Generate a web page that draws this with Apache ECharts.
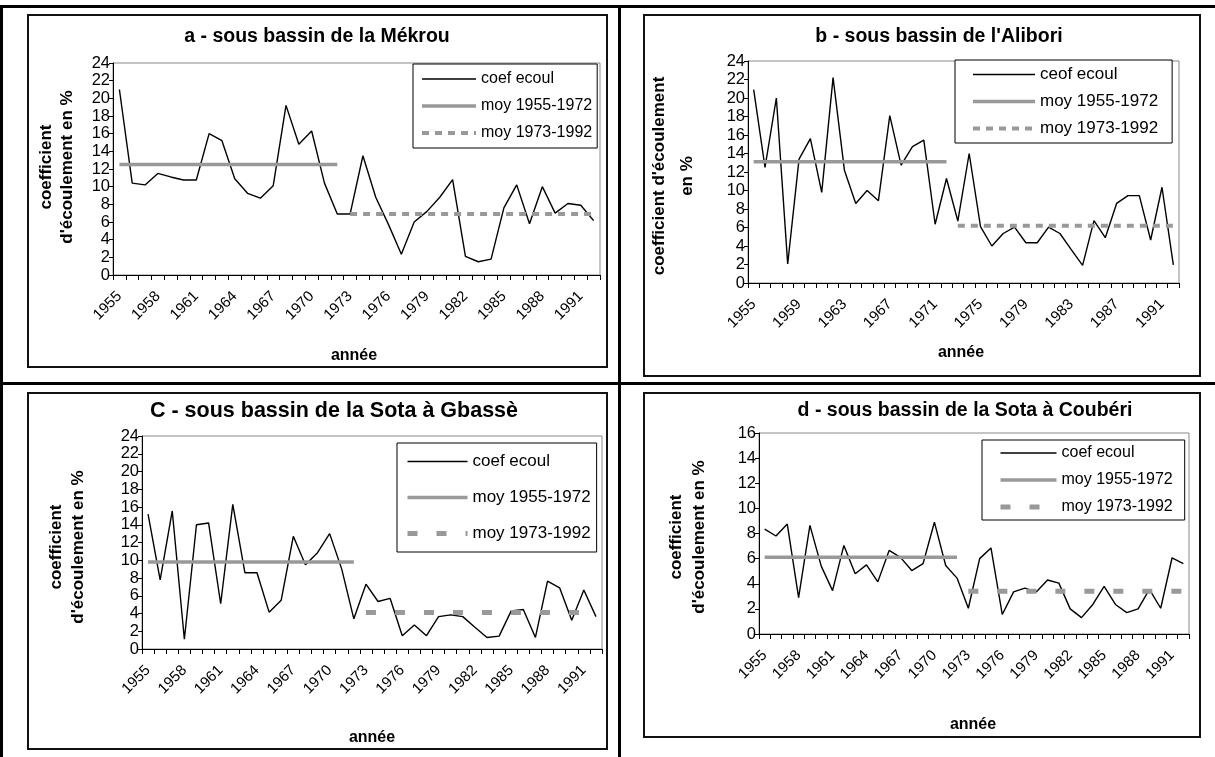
<!DOCTYPE html>
<html>
<head>
<meta charset="utf-8">
<script src="https://cdn.jsdelivr.net/npm/echarts@6/dist/echarts.min.js"></script>
<style>
  html, body { margin: 0; padding: 0; background: #fff; }
  body { width: 1215px; height: 757px; position: relative; overflow: hidden; }
  .rule { position: absolute; background: #000; }
  .panel { position: absolute; box-sizing: border-box; border: 2px solid #111; background: #fff; }
</style>
</head>
<body>
<div class="rule" style="left:0;top:5px;width:1215px;height:3px"></div>
<div class="rule" style="left:0;top:5px;width:3px;height:752px"></div>
<div class="rule" style="left:618px;top:5px;width:3px;height:752px"></div>
<div class="rule" style="left:0;top:382px;width:1215px;height:3px"></div>

<div class="panel" id="pa" style="left:27px;top:14px;width:581px;height:354px"></div>
<div class="panel" id="pb" style="left:643px;top:14px;width:558px;height:363px"></div>
<div class="panel" id="pc" style="left:27px;top:392px;width:581px;height:358px"></div>
<div class="panel" id="pd" style="left:643px;top:392px;width:558px;height:346px"></div>

<script>
// années 1955-1992
const years = ['1955', '1956', '1957', '1958', '1959', '1960', '1961', '1962', '1963', '1964',
  '1965', '1966', '1967', '1968', '1969', '1970', '1971', '1972', '1973', '1974',
  '1975', '1976', '1977', '1978', '1979', '1980', '1981', '1982', '1983', '1984',
  '1985', '1986', '1987', '1988', '1989', '1990', '1991', '1992'];

// coefficient d'écoulement (%)
const coefMekrou = [21.0, 10.4, 10.2, 11.5, 11.1, 10.75, 10.75, 16.0, 15.2, 10.9,
  9.25, 8.7, 10.1, 19.2, 14.8, 16.3, 10.4, 6.9, 6.9, 13.5,
  8.8, 5.7, 2.35, 6.0, 7.2, 8.8, 10.8, 2.1, 1.5, 1.8,
  7.6, 10.2, 5.8, 10.0, 7.0, 8.1, 7.9, 6.15];
const coefAlibori = [20.9, 12.5, 20.0, 2.05, 13.4, 15.6, 9.8, 22.2, 12.2, 8.6,
  10.0, 8.9, 18.1, 12.75, 14.75, 15.45, 6.35, 11.3, 6.7, 14.0,
  6.1, 4.0, 5.35, 6.05, 4.35, 4.35, 6.05, 5.35, 3.6, 1.9,
  6.75, 4.9, 8.6, 9.45, 9.45, 4.65, 10.35, 1.95];
const coefGbasse = [15.2, 7.8, 15.55, 1.1, 14.0, 14.2, 5.1, 16.3, 8.6, 8.6,
  4.15, 5.5, 12.7, 9.5, 10.85, 13.0, 9.0, 3.4, 7.3, 5.35,
  5.7, 1.5, 2.7, 1.5, 3.65, 3.85, 3.65, 2.45, 1.3, 1.45,
  4.3, 4.45, 1.3, 7.65, 6.9, 3.25, 6.65, 3.65];
const coefCouberi = [8.35, 7.8, 8.75, 2.9, 8.65, 5.4, 3.45, 7.05, 4.8, 5.5,
  4.15, 6.65, 6.1, 5.05, 5.6, 8.9, 5.45, 4.45, 2.05, 6.0,
  6.85, 1.55, 3.35, 3.65, 3.35, 4.3, 4.05, 2.0, 1.3, 2.35,
  3.8, 2.35, 1.7, 2.0, 3.55, 2.05, 6.05, 5.6];

// moyennes [1955-1972, 1973-1992]
const moyMekrou = [12.5, 6.9];
const moyAlibori = [13.1, 6.2];
const moyGbasse = [9.8, 4.1];
const moyCouberi = [6.1, 3.4];

const lastYearP1 = 1972;
const yTicksMax = { a: 24, b: 24, c: 24, d: 16 };

const FONT = 'Arial, "Liberation Sans", sans-serif';

const panels = [
  {
    el: 'pa', title: 'a - sous bassin de la Mékrou', coefName: 'coef ecoul',
    coef: coefMekrou, moy: moyMekrou, yMax: yTicksMax.a, labelStep: 3,
    yName: "coefficient\nd'écoulement en %",
    titlePos: [288, 21], titleSize: 19.5, yNamePos: [28, 151], yNameLH: 21, xNamePos: [325, 340],
    grid: { left: 84, top: 47, width: 487, height: 212 },
    legend: { left: 384, top: 48, padding: [7, 5, 7, 7], itemWidth: 54, itemGap: 11, fontSize: 16 },
    dash: [7, 6], dashWidth: 4
  },
  {
    el: 'pb', title: "b - sous bassin de l'Alibori", coefName: 'ceof ecoul',
    coef: coefAlibori, moy: moyAlibori, yMax: yTicksMax.b, labelStep: 4,
    yName: "coefficient d'écoulement\nen %",
    titlePos: [294, 21], titleSize: 19.5, yNamePos: [28, 160], yNameLH: 28, xNamePos: [316, 337],
    grid: { left: 103, top: 45, width: 431, height: 222 },
    legend: { left: 310, top: 44, padding: [6, 14, 6, 16], itemWidth: 62, itemGap: 10, fontSize: 17 },
    dash: [7, 6], dashWidth: 4
  },
  {
    el: 'pc', title: 'C - sous bassin de la Sota à Gbassè', coefName: 'coef ecoul',
    coef: coefGbasse, moy: moyGbasse, yMax: yTicksMax.c, labelStep: 3,
    yName: "coefficient\nd'écoulement en %",
    titlePos: [305, 17], titleSize: 21.5, yNamePos: [38, 153], yNameLH: 22, xNamePos: [343, 344],
    grid: { left: 113, top: 42, width: 460, height: 213 },
    legend: { left: 368, top: 49, padding: [10, 6, 10, 8], itemWidth: 60, itemGap: 19, fontSize: 17 },
    dash: [10, 19], dashWidth: 5
  },
  {
    el: 'pd', title: 'd - sous bassin de la Sota à Coubéri', coefName: 'coef ecoul',
    coef: coefCouberi, moy: moyCouberi, yMax: yTicksMax.d, labelStep: 3,
    yName: "coefficient\nd'écoulement en %",
    titlePos: [320, 17], titleSize: 19.5, yNamePos: [43, 143], yNameLH: 23, xNamePos: [328, 331],
    grid: { left: 114, top: 39, width: 430, height: 201 },
    legend: { left: 337, top: 46, padding: [5, 12, 5, 16], itemWidth: 56, itemGap: 11, fontSize: 16 },
    dash: [10, 19], dashWidth: 5
  }
];

const charts = panels.map((p) => {
  const chart = echarts.init(document.getElementById(p.el), null, { renderer: 'canvas' });
  const moy1 = years.map((y) => (+y <= lastYearP1 ? p.moy[0] : '-'));
  const moy2 = years.map((y) => (+y > lastYearP1 ? p.moy[1] : '-'));
  chart.setOption({
    animation: false,
    textStyle: { fontFamily: FONT },
    grid: { ...p.grid, show: true, borderColor: '#8a8a8a', borderWidth: 1, backgroundColor: 'transparent' },
    legend: {
      orient: 'vertical', left: p.legend.left, top: p.legend.top, padding: p.legend.padding,
      itemWidth: p.legend.itemWidth, itemHeight: 14, itemGap: p.legend.itemGap,
      backgroundColor: '#fff', borderColor: '#000', borderWidth: 1, borderRadius: 0,
      selectedMode: false,
      itemStyle: { opacity: 0 },
      lineStyle: { width: 'inherit', type: 'inherit', opacity: 1 },
      textStyle: { fontSize: p.legend.fontSize, color: '#000', fontFamily: FONT },
      data: [p.coefName, 'moy 1955-1972', 'moy 1973-1992']
    },
    xAxis: {
      type: 'category', data: years, boundaryGap: true,
      axisLine: { lineStyle: { color: '#000', width: 1 } },
      axisTick: { show: true, interval: 0, length: 5, lineStyle: { color: '#000' } },
      axisLabel: { interval: p.labelStep - 1, rotate: 45, fontSize: 15, color: '#000', margin: 19, fontFamily: FONT },
      splitLine: { show: false }
    },
    yAxis: {
      type: 'value', min: 0, max: p.yMax, interval: 2,
      axisLine: { show: true, lineStyle: { color: '#000', width: 1 } },
      axisTick: { show: true, length: 4, lineStyle: { color: '#000' } },
      axisLabel: { fontSize: 16.5, color: '#000', margin: 3, fontFamily: FONT },
      splitLine: { show: false }
    },
    series: [
      {
        type: 'line', name: p.coefName, data: p.coef, symbol: 'none',
        lineStyle: { color: '#000', width: 1.4 }, itemStyle: { color: '#000' }
      },
      {
        type: 'line', name: 'moy 1955-1972', data: moy1, symbol: 'none',
        lineStyle: { color: '#999', width: 3.5 }, itemStyle: { color: '#999' }
      },
      {
        type: 'line', name: 'moy 1973-1992', data: moy2, symbol: 'none',
        lineStyle: { color: '#999', width: p.dashWidth, type: p.dash }, itemStyle: { color: '#999' }
      }
    ],
    graphic: [
      {
        type: 'text', x: p.titlePos[0], y: p.titlePos[1],
        style: { text: p.title, fontSize: p.titleSize, fontWeight: 'bold', fontFamily: FONT, fill: '#000', align: 'center', verticalAlign: 'middle' }
      },
      {
        type: 'text', x: p.yNamePos[0], y: p.yNamePos[1], rotation: Math.PI / 2,
        style: { text: p.yName, fontSize: 17, fontWeight: 'bold', fontFamily: FONT, fill: '#000', align: 'center', verticalAlign: 'middle', lineHeight: p.yNameLH }
      },
      {
        type: 'text', x: p.xNamePos[0], y: p.xNamePos[1],
        style: { text: 'année', fontSize: 16, fontWeight: 'bold', fontFamily: FONT, fill: '#000', align: 'center', verticalAlign: 'middle' }
      }
    ]
  });
  return chart;
});
</script>
</body>
</html>
